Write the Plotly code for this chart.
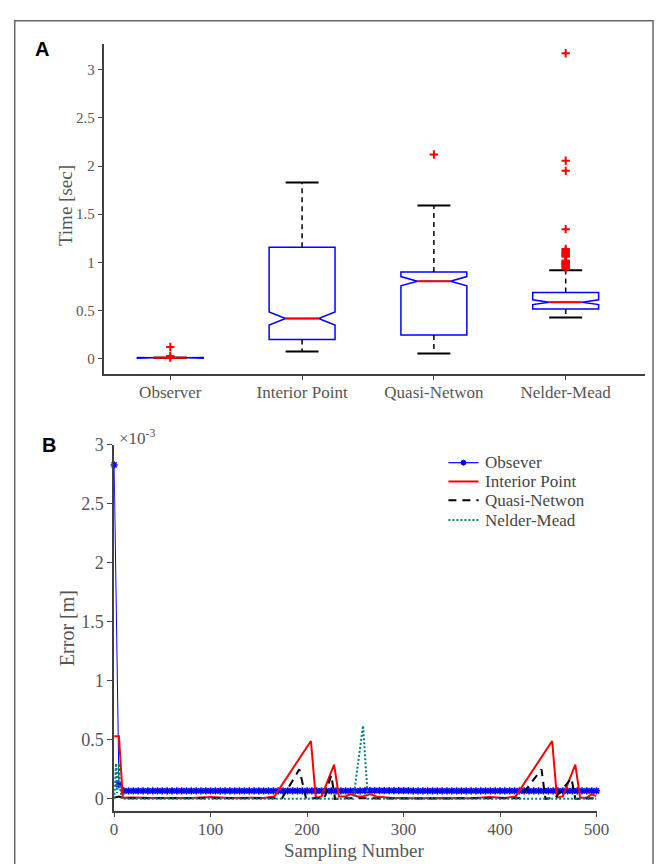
import plotly.graph_objects as go

W, H = 668, 864

# ---------------- Panel A data (box statistics, seconds) ----------------
categories = ["Observer", "Interior Point", "Quasi-Netwon", "Nelder-Mead"]
positions = [1, 2, 3, 4]
q1 = [0.010, 0.199, 0.247, 0.517]
median = [0.010, 0.418, 0.805, 0.587]
q3 = [0.010, 1.157, 0.900, 0.688]
whisker_low = [0.010, 0.075, 0.055, 0.428]
whisker_high = [0.010, 1.830, 1.590, 0.918]
notch_span = [0.003, 0.067, 0.048, 0.025]
outliers = [
    [0.123, 0.030, 0.012],
    [],
    [2.12],
    [3.17, 2.055, 1.95, 1.345, 1.14, 1.125, 1.11, 1.10, 1.09, 1.08, 1.07, 1.06,
     1.02, 1.01, 1.00, 0.99, 0.98, 0.97, 0.96, 0.95, 0.94],
]
a_yticks = [0, 0.5, 1, 1.5, 2, 2.5, 3]
a_yticklabels = ["0", "0.5", "1", "1.5", "2", "2.5", "3"]

# ---------------- Panel B data (error, units of 1e-3 m) ----------------
obs_x = list(range(0, 501, 5))
obs_y = [2.83, 0.12,
         0.068, 0.068, 0.068, 0.068, 0.068, 0.068, 0.068, 0.068, 0.068, 0.068,
         0.068, 0.068, 0.068, 0.068, 0.068, 0.068, 0.068, 0.068, 0.068, 0.068,
         0.068, 0.068, 0.068, 0.068, 0.068, 0.068, 0.068, 0.068, 0.068, 0.068,
         0.068, 0.068, 0.068, 0.068, 0.068, 0.068, 0.068, 0.068, 0.068, 0.068,
         0.068, 0.068, 0.068, 0.068, 0.068, 0.068, 0.068, 0.068, 0.068, 0.068,
         0.070, 0.070, 0.070, 0.070, 0.070, 0.070, 0.070, 0.070, 0.070, 0.070,
         0.068, 0.068, 0.068, 0.068, 0.068, 0.068, 0.068, 0.068, 0.068, 0.068,
         0.068, 0.068, 0.068, 0.068, 0.068, 0.068, 0.068, 0.068, 0.068, 0.068,
         0.068, 0.068, 0.068, 0.068, 0.068, 0.068, 0.068, 0.068, 0.068, 0.068,
         0.068, 0.068, 0.068, 0.068, 0.068, 0.068, 0.068, 0.068, 0.068]

ip_x = [0, 5, 9, 20, 40, 60, 80, 100, 120, 140, 155, 166, 204, 209, 215, 228, 233, 240,
        245, 252, 258, 265, 272, 285, 310, 340, 370, 390, 405, 416, 454, 459, 465, 478,
        483, 490, 495, 500]
ip_y = [0.53, 0.53, 0.01, 0.012, 0.008, 0.005, 0.008, 0.015, 0.006, 0.01, 0.008, 0.02,
        0.49, 0.01, 0.02, 0.29, 0.02, 0.02, 0.04, 0.02, 0.02, 0.04, 0.02, 0.01, 0.005,
        0.008, 0.005, 0.015, 0.008, 0.02, 0.49, 0.01, 0.02, 0.29, 0.01, 0.01, 0.04, 0.02]

qn_x = [0, 5, 10, 60, 120, 174, 192, 199, 205, 218, 225, 229, 240, 300, 360, 420, 443,
        447, 452, 457, 474, 478, 500]
qn_y = [0.01, 0.02, 0.005, 0.003, 0.005, 0.005, 0.25, 0.0, 0.005, 0.005, 0.2, 0.0,
        0.005, 0.003, 0.005, 0.005, 0.25, 0.0, 0.005, 0.005, 0.175, 0.0, 0.005]

nm_x = [0, 2, 3, 5, 6, 8, 10, 100, 200, 248, 258, 263, 300, 400, 500]
nm_y = [0.0, 0.3, 0.05, 0.3, 0.1, 0.0, 0.0, 0.0, 0.0, 0.0, 0.62, 0.0, 0.0, 0.0, 0.0]

series_names = ["Obsever", "Interior Point", "Quasi-Netwon", "Nelder-Mead"]
b_xticks = [0, 100, 200, 300, 400, 500]
b_yticks = [0, 0.5, 1, 1.5, 2, 2.5, 3]
b_yticklabels = ["0", "0.5", "1", "1.5", "2", "2.5", "3"]

# ---------------- styling ----------------
SERIF = "Liberation Serif, Times New Roman, serif"
SANS = "Liberation Sans, Arial, sans-serif"
TXT = "#555555"
AX = "#404040"
BLUE, RED, TEAL = "#0000ff", "#ff0000", "#008080"
BOX_W = 0.5
HALF = BOX_W / 4  # half-width of whisker caps / median line
QN_DASH = "8px,6px"
NM_DASH = "2px,2px"

fig = go.Figure()

# whiskers (dashed) and caps
for p, lo, hi, a, b in zip(positions, whisker_low, whisker_high, q1, q3):
    fig.add_trace(go.Scatter(
        x=[p, p, None, p, p], y=[b, hi, None, a, lo], mode="lines",
        line=dict(color="black", width=1.5, dash="5px,4px"),
        hoverinfo="skip", xaxis="x", yaxis="y"))
    fig.add_trace(go.Scatter(
        x=[p - HALF, p + HALF, None, p - HALF, p + HALF], y=[hi, hi, None, lo, lo],
        mode="lines", line=dict(color="black", width=2),
        hoverinfo="skip", xaxis="x", yaxis="y"))

# notched boxes
for p, a, m, b, ns in zip(positions, q1, median, q3, notch_span):
    fig.add_trace(go.Box(
        x=[p], q1=[a], median=[m], q3=[b], lowerfence=[a], upperfence=[b],
        notched=True, notchspan=[ns], notchwidth=0.25, width=BOX_W,
        whiskerwidth=0, boxpoints=False,
        line=dict(color=BLUE, width=1.5), fillcolor="rgba(0,0,0,0)",
        hoverinfo="skip", xaxis="x", yaxis="y"))

# red medians
for p, m in zip(positions, median):
    fig.add_trace(go.Scatter(
        x=[p - HALF, p + HALF], y=[m, m], mode="lines",
        line=dict(color=RED, width=2),
        hoverinfo="skip", xaxis="x", yaxis="y"))

# outliers
for p, outs in zip(positions, outliers):
    if outs:
        fig.add_trace(go.Scatter(
            x=[p] * len(outs), y=outs, mode="markers",
            marker=dict(symbol="cross-thin", size=6, line=dict(color=RED, width=2)),
            hoverinfo="skip", xaxis="x", yaxis="y"))

# ---------------- Panel B traces ----------------
fig.add_trace(go.Scatter(
    x=obs_x, y=obs_y, mode="lines+markers", name=series_names[0],
    line=dict(color=BLUE, width=1),
    marker=dict(symbol="asterisk-open", size=6, line=dict(color=BLUE, width=1.6)),
    cliponaxis=False, xaxis="x2", yaxis="y2"))
fig.add_trace(go.Scatter(
    x=ip_x, y=ip_y, mode="lines", name=series_names[1],
    line=dict(color=RED, width=2), cliponaxis=False, xaxis="x2", yaxis="y2"))
fig.add_trace(go.Scatter(
    x=qn_x, y=qn_y, mode="lines", name=series_names[2],
    line=dict(color="black", width=2, dash=QN_DASH), cliponaxis=False,
    xaxis="x2", yaxis="y2"))
fig.add_trace(go.Scatter(
    x=nm_x, y=nm_y, mode="lines", name=series_names[3],
    line=dict(color=TEAL, width=2, dash=NM_DASH), cliponaxis=False,
    xaxis="x2", yaxis="y2"))

axis_common = dict(showline=True, linecolor=AX, linewidth=1.5, ticks="outside",
                   ticklen=5, tickwidth=1, tickcolor=AX, showgrid=False,
                   zeroline=False, mirror=False)

fig.update_layout(
    width=W, height=H, margin=dict(l=0, r=0, t=0, b=0),
    paper_bgcolor="white", plot_bgcolor="white", showlegend=False,
    xaxis=dict(domain=[103 / W, 657.5 / W], range=[0.5, 4.6], anchor="y",
               tickvals=positions, ticktext=categories, ticklabelstandoff=-3,
               tickfont=dict(family=SERIF, size=17, color=TXT), **axis_common),
    yaxis=dict(domain=[1 - 368 / H, 1 - 34 / H], range=[-0.155, 3.27], anchor="x",
               tickvals=a_yticks, ticktext=a_yticklabels,
               tickfont=dict(family=SERIF, size=15, color=TXT), **axis_common),
    xaxis2=dict(domain=[113 / W, 608 / W], range=[0, 500], anchor="y2",
                tickvals=b_xticks, ticklabelstandoff=-3,
                tickfont=dict(family=SERIF, size=17, color=TXT), **axis_common),
    yaxis2=dict(domain=[1 - 810 / H, 1 - 440 / H], range=[-0.1, 3.0], anchor="x2",
                tickvals=b_yticks, ticktext=b_yticklabels,
                tickfont=dict(family=SERIF, size=18, color=TXT), **axis_common),
)

annotations = [
    dict(text="<b>A</b>", x=39 / W, y=1 - 39 / H, font=dict(family=SANS, size=20, color="black")),
    dict(text="<b>B</b>", x=46 / W, y=1 - 440 / H, font=dict(family=SANS, size=20, color="black")),
    dict(text="Time [sec]", x=63 / W, y=1 - 198 / H, textangle=-90,
         font=dict(family=SERIF, size=19, color=TXT)),
    dict(text="Error [m]", x=64 / W, y=1 - 625 / H, textangle=-90,
         font=dict(family=SERIF, size=20, color=TXT)),
    dict(text="Sampling Number", x=360 / W, y=1 - 850 / H,
         font=dict(family=SERIF, size=19, color=TXT)),
    dict(text="×10<sup>-3</sup>", x=116 / W, y=1 - 432 / H, xanchor="left",
         font=dict(family=SERIF, size=17, color=TXT)),
]
# legend text entries
leg_rows = [458, 477, 496, 516]
LEG_TX = 491
for name, ry in zip(series_names, leg_rows):
    annotations.append(dict(text=name, x=LEG_TX / W, y=1 - ry / H, xanchor="left",
                            font=dict(family=SERIF, size=17, color="#444444")))
for a in annotations:
    a.setdefault("xanchor", "center")
    a.update(xref="paper", yref="paper", yanchor="middle", showarrow=False)
fig.update_layout(annotations=annotations)

# legend keys (paper-space decoration)
key_x0, key_x1 = 456 / W, 487 / W
key_styles = [dict(color=BLUE, width=1.2), dict(color=RED, width=2),
              dict(color="black", width=2.2, dash=QN_DASH), dict(color=TEAL, width=2, dash=NM_DASH)]
for ry, st in zip(leg_rows, key_styles):
    fig.add_shape(type="line", xref="paper", yref="paper",
                  x0=key_x0, x1=key_x1, y0=1 - ry / H, y1=1 - ry / H, line=st)
cx, cy = (key_x0 + key_x1) / 2, 1 - leg_rows[0] / H
fig.add_shape(type="circle", xref="paper", yref="paper",
              x0=cx - 2.5 / W, x1=cx + 2.5 / W, y0=cy - 2.5 / H, y1=cy + 2.5 / H,
              line=dict(color=BLUE, width=1), fillcolor=BLUE)

# outer frame
fig.add_shape(type="rect", xref="paper", yref="paper",
              x0=11 / W, x1=666 / W, y0=-0.05, y1=1 - 11 / H,
              line=dict(color="#666666", width=1.5), fillcolor="rgba(0,0,0,0)", layer="below")

fig.write_html("out.html")
